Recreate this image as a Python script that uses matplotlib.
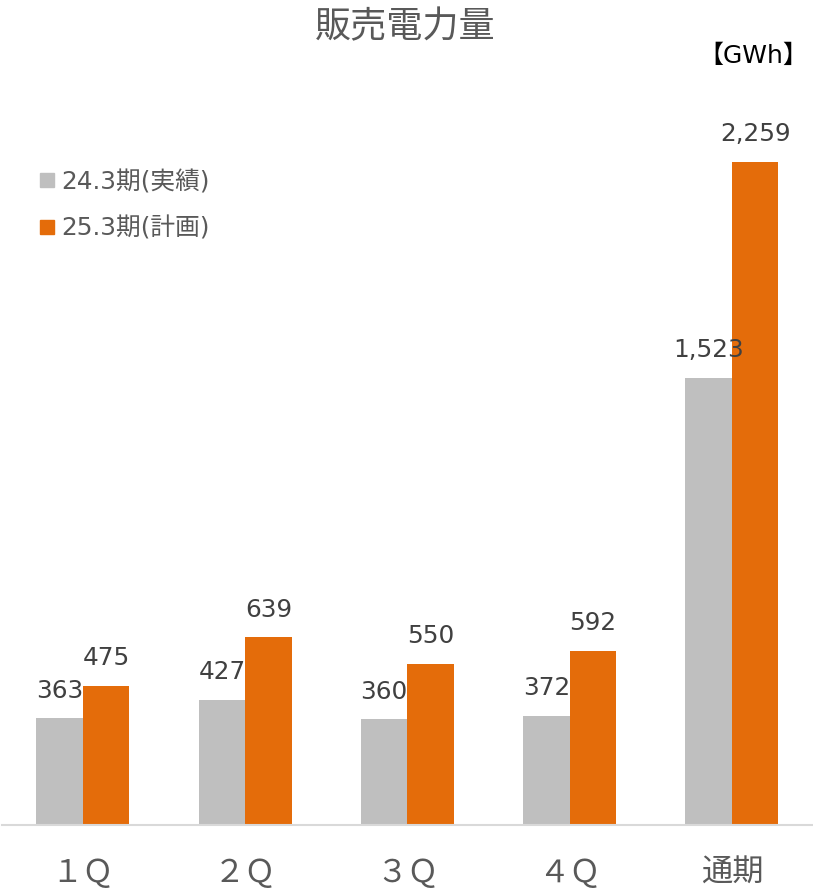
import matplotlib
matplotlib.use("Agg")
import matplotlib.pyplot as plt
from matplotlib.lines import Line2D
import numpy as np

plt.rcParams['font.family'] = ['DejaVu Sans', 'Noto Sans CJK JP']

categories = ["１Ｑ", "２Ｑ", "３Ｑ", "４Ｑ", "通期"]
actual_fy24 = [363, 427, 360, 372, 1523]
plan_fy25 = [475, 639, 550, 592, 2259]
series_names = ["24.3期(実績)", "25.3期(計画)"]
title = "販売電力量"
unit = "【GWh】"

gray = "#BFBFBF"
orange = "#E46C0A"
text_col = "#595959"
label_col = "#404040"

W, H = 813, 894
fig = plt.figure(figsize=(W / 100, H / 100), dpi=100)
base_px = 825
top_px = 100
ax = fig.add_axes([1.75 / W, (H - base_px) / H, (W - 1.75) / W, (base_px - top_px) / H])

x = np.arange(len(categories))
bw = 0.286
b1 = ax.bar(x - bw / 2, actual_fy24, width=bw, color=gray, label=series_names[0])
b2 = ax.bar(x + bw / 2, plan_fy25, width=bw, color=orange, label=series_names[1])

# scale: 2259 units -> 663 px
ymax = (base_px - top_px) / (663 / 2259)
ax.set_ylim(0, ymax)
ax.set_xlim(-0.5, len(categories) - 0.5)

for bars, vals in ((b1, actual_fy24), (b2, plan_fy25)):
    for rect, v in zip(bars, vals):
        ax.annotate(f"{v:,}", (rect.get_x() + rect.get_width() / 2, v),
                    xytext=(0, 15), textcoords="offset points",
                    ha="center", va="baseline", fontsize=17.8, color=label_col)

for s in ("top", "right", "left"):
    ax.spines[s].set_visible(False)
ax.spines["bottom"].set_color("#D9D9D9")
ax.spines["bottom"].set_linewidth(1.5)
ax.set_yticks([])
ax.set_xticks(x)
ax.set_xticklabels(categories, fontsize=22.5, color=text_col)
ax.tick_params(axis="x", length=0, pad=24)

fig.text(405 / W, 1 - 27 / H, title, ha="center", va="center", fontsize=26, color=text_col)
fig.text(808 / W, 1 - 56 / H, unit, ha="right", va="center", fontsize=18, color="black")

handles = [Line2D([], [], marker="s", linestyle="none", markersize=9.5, color=gray),
           Line2D([], [], marker="s", linestyle="none", markersize=9.5, color=orange)]
fig.legend(handles, series_names, loc="upper left", bbox_to_anchor=(40 / W, 1 - 170 / H),
           frameon=False, fontsize=17.8, labelcolor=text_col, handlelength=0.55,
           handletextpad=0.3, labelspacing=0.9, borderaxespad=0, borderpad=0)

fig.savefig("out.png", dpi=100)
